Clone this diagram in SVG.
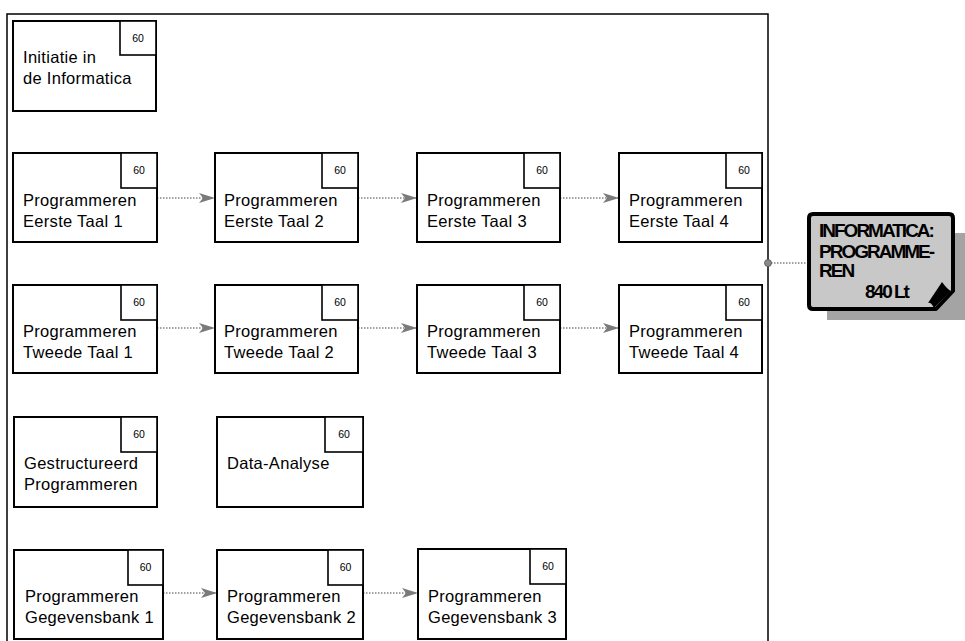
<svg xmlns="http://www.w3.org/2000/svg" width="965" height="641" viewBox="0 0 965 641">
<style>
.box{fill:#fff;stroke:#000;stroke-width:2}
.sm{fill:#fff;stroke:#000;stroke-width:1.6}
.t{font-family:"Liberation Sans",Arial,sans-serif;font-size:16.5px;letter-spacing:0.3px;fill:#000}
.n{font-family:"Liberation Sans",Arial,sans-serif;font-size:10.5px;fill:#000;text-anchor:middle}
.c{fill:none;stroke:#444;stroke-width:1;stroke-dasharray:1.5 1.5}
.big{font-family:"Liberation Sans",Arial,sans-serif;font-size:19px;font-weight:bold;letter-spacing:-2px;fill:#000}
</style>
<defs>
<marker id="ah" markerUnits="userSpaceOnUse" markerWidth="18" markerHeight="14" refX="16" refY="7" orient="auto">
<path d="M0,2 L4,7 L0,12 L16,7 Z" fill="#7a7a7a"/>
</marker>
</defs>
<rect width="965" height="641" fill="#fff"/>
<g id="frame"><path d="M7,641 V14 H768 V641" fill="none" stroke="#000" stroke-width="1.5"/></g>

<g id="connectors">
<line class="c" x1="157" y1="198" x2="215" y2="198" marker-end="url(#ah)"/>
<line class="c" x1="358" y1="198" x2="417" y2="198" marker-end="url(#ah)"/>
<line class="c" x1="560" y1="198" x2="619" y2="198" marker-end="url(#ah)"/>
<line class="c" x1="157" y1="328" x2="215" y2="328" marker-end="url(#ah)"/>
<line class="c" x1="358" y1="328" x2="417" y2="328" marker-end="url(#ah)"/>
<line class="c" x1="560" y1="328" x2="619" y2="328" marker-end="url(#ah)"/>
<line class="c" x1="163" y1="593" x2="217" y2="593" marker-end="url(#ah)"/>
<line class="c" x1="363" y1="593" x2="418" y2="593" marker-end="url(#ah)"/>
<line class="c" x1="771" y1="263" x2="809" y2="263"/>
<circle cx="768" cy="263" r="3.5" fill="#8a8a8a" stroke="#555" stroke-width="0.8"/>
</g>

<g id="n1"><rect class="box" x="13" y="21" width="143" height="90"/><rect class="sm" x="120" y="21" width="36" height="34"/><text class="n" x="138" y="42">60</text><text class="t" x="23" y="63">Initiatie in</text><text class="t" x="23" y="84">de Informatica</text></g>

<g id="e1"><rect class="box" x="13" y="153" width="144" height="89"/><rect class="sm" x="121" y="153" width="36" height="35"/><text class="n" x="139" y="174">60</text><text class="t" x="23" y="206">Programmeren</text><text class="t" x="23" y="227">Eerste Taal 1</text></g>
<g id="e2"><rect class="box" x="215" y="153" width="143" height="89"/><rect class="sm" x="322" y="153" width="36" height="35"/><text class="n" x="340" y="174">60</text><text class="t" x="224" y="206">Programmeren</text><text class="t" x="224" y="227">Eerste Taal 2</text></g>
<g id="e3"><rect class="box" x="417" y="153" width="143" height="89"/><rect class="sm" x="524" y="153" width="36" height="35"/><text class="n" x="542" y="174">60</text><text class="t" x="427" y="206">Programmeren</text><text class="t" x="427" y="227">Eerste Taal 3</text></g>
<g id="e4"><rect class="box" x="619" y="153" width="143" height="89"/><rect class="sm" x="726" y="153" width="36" height="35"/><text class="n" x="744" y="174">60</text><text class="t" x="629" y="206">Programmeren</text><text class="t" x="629" y="227">Eerste Taal 4</text></g>

<g id="t1"><rect class="box" x="13" y="285" width="144" height="88"/><rect class="sm" x="121" y="285" width="36" height="35"/><text class="n" x="139" y="306">60</text><text class="t" x="23" y="337">Programmeren</text><text class="t" x="23" y="358">Tweede Taal 1</text></g>
<g id="t2"><rect class="box" x="215" y="285" width="143" height="88"/><rect class="sm" x="322" y="285" width="36" height="35"/><text class="n" x="340" y="306">60</text><text class="t" x="224" y="337">Programmeren</text><text class="t" x="224" y="358">Tweede Taal 2</text></g>
<g id="t3"><rect class="box" x="417" y="285" width="143" height="88"/><rect class="sm" x="524" y="285" width="36" height="35"/><text class="n" x="542" y="306">60</text><text class="t" x="427" y="337">Programmeren</text><text class="t" x="427" y="358">Tweede Taal 3</text></g>
<g id="t4"><rect class="box" x="619" y="285" width="143" height="88"/><rect class="sm" x="726" y="285" width="36" height="35"/><text class="n" x="744" y="306">60</text><text class="t" x="629" y="337">Programmeren</text><text class="t" x="629" y="358">Tweede Taal 4</text></g>

<g id="g1"><rect class="box" x="14" y="417" width="143" height="90"/><rect class="sm" x="121" y="417" width="36" height="35"/><text class="n" x="139" y="438">60</text><text class="t" x="24" y="469">Gestructureerd</text><text class="t" x="24" y="490">Programmeren</text></g>
<g id="d1"><rect class="box" x="217" y="417" width="146" height="90"/><rect class="sm" x="325" y="417" width="38" height="35"/><text class="n" x="344" y="438">60</text><text class="t" x="227" y="469">Data-Analyse</text></g>

<g id="b1"><rect class="box" x="14" y="550" width="149" height="89"/><rect class="sm" x="128" y="550" width="35" height="35"/><text class="n" x="145.5" y="571">60</text><text class="t" x="25" y="602">Programmeren</text><text class="t" x="25" y="623">Gegevensbank 1</text></g>
<g id="b2"><rect class="box" x="217" y="550" width="146" height="89"/><rect class="sm" x="328" y="550" width="35" height="35"/><text class="n" x="345.5" y="571">60</text><text class="t" x="227" y="602">Programmeren</text><text class="t" x="227" y="623">Gegevensbank 2</text></g>
<g id="b3"><rect class="box" x="418" y="549" width="148" height="90"/><rect class="sm" x="530" y="549" width="36" height="35"/><text class="n" x="548" y="570">60</text><text class="t" x="428" y="602">Programmeren</text><text class="t" x="428" y="623">Gegevensbank 3</text></g>

<g id="total">
<rect x="827" y="233" width="145" height="87" fill="#a4a4a4"/>
<path d="M813,214 H949 Q953,214 953,218 V291 L936,309 H813 Q809,309 809,305 V218 Q809,214 813,214 Z" fill="#c8c8c8" stroke="#000" stroke-width="4" stroke-linejoin="round"/>
<path d="M942,282 Q947,289 951,291 L934,308 Q931,302 928,303 Z" fill="#000"/>
<text class="big" x="819" y="237">INFORMATICA:</text>
<text class="big" x="819" y="258">PROGRAMME-</text>
<text class="big" x="819" y="277">REN</text>
<text class="big" x="865" y="298">840 Lt</text>
</g>
</svg>
